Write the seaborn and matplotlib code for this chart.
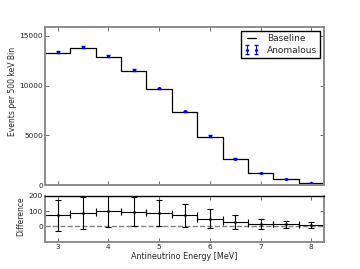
import numpy as np
import pandas as pd
import matplotlib
matplotlib.use("Agg")
import matplotlib.pyplot as plt
import seaborn as sns

# bin centres [MeV], 500 keV bins
energy = [3.0, 3.5, 4.0, 4.5, 5.0, 5.5, 6.0, 6.5, 7.0, 7.5, 8.0]
baseline = [13270, 13770, 12830, 11470, 9630, 7330, 4880, 2630, 1210, 575, 170]
difference = [73, 89, 97, 95, 87, 71, 49, 27, 15, 13, 9]
diff_err = [102, 106, 102, 97, 87, 74, 62, 47, 33, 22, 18]

df = pd.DataFrame({"energy": energy, "baseline": baseline,
                   "difference": difference, "err": diff_err})
df["anomalous"] = df["baseline"] + df["difference"]

# step outline: left bin edges plus closing right edge
steps = pd.DataFrame({
    "edge": np.append(df["energy"].values - 0.25, df["energy"].values[-1] + 0.25),
    "counts": np.append(df["baseline"].values, df["baseline"].values[-1]),
})

sns.set_style("ticks")
plt.rcParams["font.family"] = ["DejaVu Sans"]
plt.rcParams["xtick.direction"] = "in"
plt.rcParams["ytick.direction"] = "in"

fig = plt.figure(figsize=(3.6, 2.69), dpi=100, facecolor="white")
ax = fig.add_axes([0.125, 0.312, 0.775, 0.588])
ax2 = fig.add_axes([0.125, 0.10, 0.775, 0.172], sharex=ax)

# top panel: baseline steps + anomalous points
sns.lineplot(data=steps, x="edge", y="counts", drawstyle="steps-post",
             color="black", linewidth=0.9, ax=ax, label="Baseline")
ax.errorbar(df["energy"], df["anomalous"], yerr=df["err"], fmt=".",
            color="blue", markersize=2.5, capsize=1.5, elinewidth=0.8,
            label="Anomalous")
ax.set_xlim(2.75, 8.25)
ax.set_ylim(0, 15900)
ax.set_yticks([0, 5000, 10000, 15000])
ax.set_ylabel("Events per 500 keV Bin", fontsize=5.5)
ax.yaxis.set_label_coords(-0.10, 0.59)
ax.set_xlabel("")
ax.tick_params(labelbottom=False)
ax.legend(loc="upper right", numpoints=2, fontsize=6.5, fancybox=False,
          edgecolor="black", framealpha=1, borderaxespad=0.45,
          handlelength=1.6, handletextpad=0.9, borderpad=0.35,
          labelspacing=0.3)

# bottom panel: difference
ax2.axhline(0, color="gray", linestyle="--", linewidth=1.0)
ax2.errorbar(df["energy"], df["difference"], xerr=0.25, yerr=df["err"],
             fmt=".", color="black", markersize=2, capsize=2, elinewidth=0.8,
             capthick=0.8)
ax2.set_ylim(-105, 200)
ax2.set_yticks([0, 100, 200])
ax2.set_xticks([3, 4, 5, 6, 7, 8])
ax2.set_ylabel("Difference", fontsize=5.5)
ax2.yaxis.set_label_coords(-0.07, 0.55)
ax2.set_xlabel("Antineutrino Energy [MeV]", fontsize=5.8, labelpad=1.5)

for a in (ax, ax2):
    a.set_facecolor("white")
    for side in ["top", "bottom", "left", "right"]:
        a.spines[side].set_visible(True)
        a.spines[side].set_color("#8c8c8c")
        a.spines[side].set_linewidth(1.4)
    a.tick_params(axis="both", which="both", top=True, right=True,
                  length=3, width=0.6, color="#555555", labelsize=5.3, pad=1.5)
ax2.spines["top"].set_color("black")
ax2.spines["top"].set_linewidth(1.0)

fig.savefig("out.png", dpi=100, facecolor="white")
